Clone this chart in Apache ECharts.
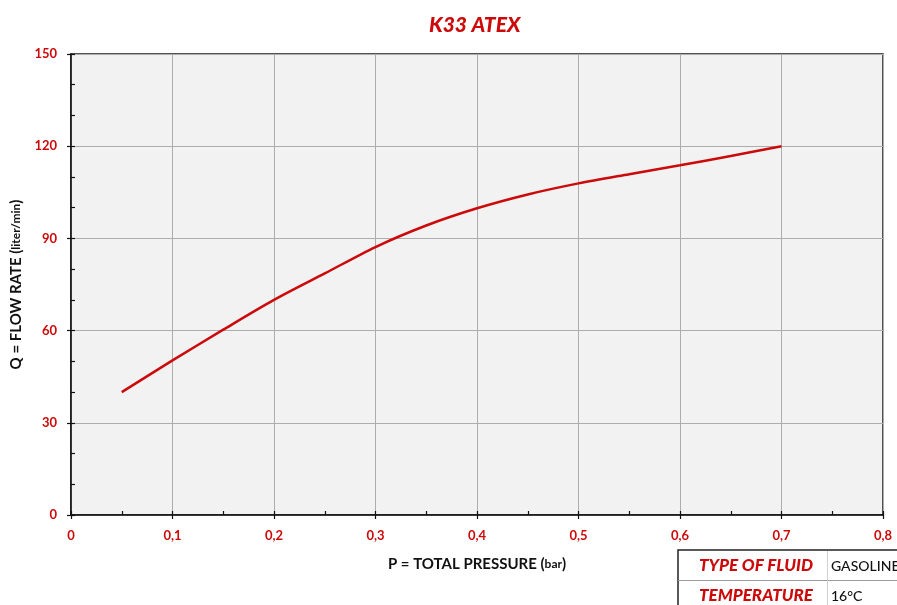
<!DOCTYPE html>
<html>
<head>
<meta charset="utf-8">
<script src="https://cdn.jsdelivr.net/npm/echarts@6/dist/echarts.min.js"></script>
<style>
html,body{margin:0;padding:0;background:#fff;}
#chart{width:897px;height:605px;}
</style>
</head>
<body>
<div id="chart"></div>
<script>
// Data
const pressure = [0.05, 0.1, 0.15, 0.2, 0.25, 0.3, 0.35, 0.4, 0.45, 0.5, 0.55, 0.6, 0.65, 0.7];
const flowRate = [40, 50.3, 60.3, 70, 78.6, 87.2, 94.2, 99.8, 104.3, 107.9, 110.9, 113.8, 116.8, 120];
const titleText = 'K33 ATEX';
const xName = 'P = TOTAL PRESSURE';
const xUnit = 'bar';
const yName = 'Q = FLOW RATE';
const yUnit = 'liter/min';
const infoLabels = ['TYPE OF FLUID', 'TEMPERATURE'];
const infoValues = ['GASOLINE', '16°C'];

const RED = '#cc0a0a';
const FONT = 'Lato, "Noto Sans", sans-serif';

const chart = echarts.init(document.getElementById('chart'));
const fmtX = v => (v === 0 ? '0' : v.toFixed(1).replace('.', ','));

const commonHidden = {
  axisLabel: {show: false}, splitLine: {show: false}, axisLine: {show: false}
};

chart.setOption({
  animation: false,
  backgroundColor: '#ffffff',
  title: {
    text: titleText, left: 424, top: 10,
    textStyle: {color: RED, fontFamily: FONT, fontStyle: 'italic', fontWeight: 900, fontSize: 21}
  },
  grid: {
    left: 71, right: 14, top: 54, bottom: 90, show: true,
    containLabel: false, outerBoundsMode: 'none',
    backgroundColor: '#f2f2f2', borderColor: '#1a1a1a', borderWidth: 1.5
  },
  xAxis: [{
    type: 'value', min: 0, max: 0.8, interval: 0.1,
    name: '{a|' + xName + ' }{a|(}{b|' + xUnit + '}{a|)}',
    nameLocation: 'middle', nameGap: 42,
    nameTextStyle: {rich: {
      a: {fontFamily: FONT, fontWeight: 'bold', fontSize: 15, color: '#111'},
      b: {fontFamily: FONT, fontWeight: 'bold', fontSize: 12, color: '#111'}
    }},
    axisLine: {lineStyle: {color: '#111', width: 1.5}},
    axisTick: {show: true, length: 4, lineStyle: {color: '#111', width: 1.2}},
    axisLabel: {color: RED, fontFamily: FONT, fontWeight: 'bold', fontSize: 13, margin: 14, formatter: fmtX},
    splitLine: {show: true, lineStyle: {color: '#adadad', width: 1}}
  }, Object.assign({
    type: 'value', min: 0, max: 0.8, interval: 0.05, position: 'bottom',
    axisTick: {show: true, inside: true, length: 4, lineStyle: {color: '#111', width: 1.2}}
  }, commonHidden)],
  yAxis: [{
    type: 'value', min: 0, max: 150, interval: 30,
    name: '{a|' + yName + ' }{a|(}{b|' + yUnit + '}{a|)}',
    nameLocation: 'middle', nameGap: 45, nameRotate: 90,
    nameTextStyle: {rich: {
      a: {fontFamily: FONT, fontWeight: 'bold', fontSize: 15, color: '#111'},
      b: {fontFamily: FONT, fontWeight: 'bold', fontSize: 12, color: '#111'}
    }},
    axisLine: {show: true, lineStyle: {color: '#111', width: 1.5}},
    axisTick: {show: true, length: 4, lineStyle: {color: '#111', width: 1.2}},
    axisLabel: {color: RED, fontFamily: FONT, fontWeight: 'bold', fontSize: 13, margin: 14},
    splitLine: {show: true, lineStyle: {color: '#adadad', width: 1}}
  }, Object.assign({
    type: 'value', min: 0, max: 150, interval: 10, position: 'left',
    axisTick: {show: true, inside: true, length: 4, lineStyle: {color: '#111', width: 1.2}}
  }, commonHidden)],
  series: [{
    type: 'line',
    data: pressure.map((p, i) => [p, flowRate[i]]),
    smooth: 0.3,
    symbol: 'none',
    lineStyle: {color: RED, width: 2.5},
    xAxisIndex: 0, yAxisIndex: 0
  }],
  graphic: [
    {type: 'rect', shape: {x: 678, y: 550, width: 240, height: 70},
     style: {fill: '#fff', stroke: '#222', lineWidth: 1.5}, z: 10},
    {type: 'line', shape: {x1: 678, y1: 580.5, x2: 897, y2: 580.5},
     style: {stroke: '#9a9a9a', lineWidth: 1}, z: 11},
    {type: 'line', shape: {x1: 827.5, y1: 551, x2: 827.5, y2: 605},
     style: {stroke: '#cfcfcf', lineWidth: 1}, z: 11},
    {type: 'text', x: 699, y: 566, z: 12,
     style: {text: infoLabels[0], fill: RED, font: 'italic 900 17px ' + FONT, textVerticalAlign: 'middle'}},
    {type: 'text', x: 831, y: 566, z: 12,
     style: {text: infoValues[0], fill: '#111', font: '500 14px ' + FONT, textVerticalAlign: 'middle'}},
    {type: 'text', x: 699, y: 596, z: 12,
     style: {text: infoLabels[1], fill: RED, font: 'italic 900 17px ' + FONT, textVerticalAlign: 'middle'}},
    {type: 'text', x: 831, y: 596, z: 12,
     style: {text: infoValues[1], fill: '#111', font: '500 14px ' + FONT, textVerticalAlign: 'middle'}}
  ]
});
</script>
</body>
</html>
